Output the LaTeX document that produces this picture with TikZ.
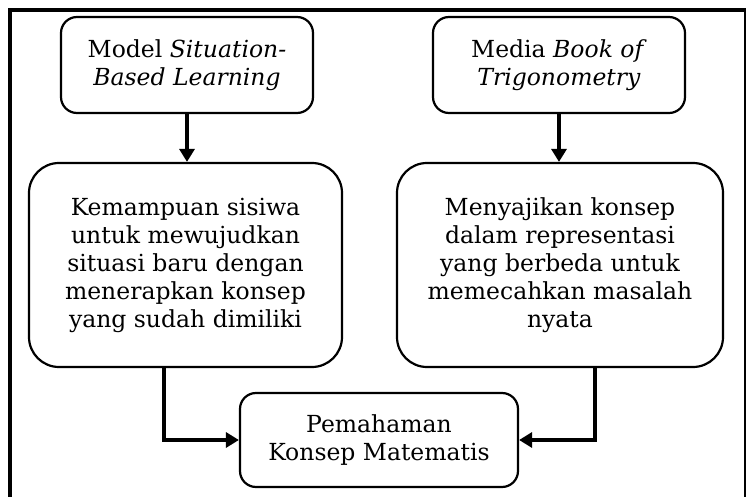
\documentclass[tikz,border=0pt]{standalone}
\usepackage{fontspec}
\setmainfont{DejaVu Serif}
\usetikzlibrary{arrows.meta,positioning,calc}

\begin{document}
\begin{tikzpicture}[
  x=1pt,
  y=1pt,
  box/.style={draw=black, line width=2.2pt, rounded corners=16pt, align=center,
    font=\fontsize{23.5}{28}\selectfont, inner sep=4pt},
  bigbox/.style={box, rounded corners=30pt},
  flow/.style={-{Triangle[length=13pt, width=15pt]}, line width=4pt}
]
  \useasboundingbox (0,0) rectangle (750,496);
  % Outer frame: thick on top and left, thin on the right
  \draw[line width=1.3pt] (745,486) -- (745,-5);
  \draw[line width=3.5pt] (10,-5) -- (10,486) -- (746,486);
  % Top row: model and media
  \node[box, minimum width=252, minimum height=96] (sbl) at (187,431)
    {Model \textit{Situation-}\\\textit{Based Learning}};
  \node[box, minimum width=252, minimum height=96] (bot) at (559,431)
    {Media \textit{Book of}\\\textit{Trigonometry}};
  % Middle row: what each one gives
  \node[bigbox, minimum width=313, minimum height=204] (kemampuan) at (185.5,231)
    {Kemampuan sisiwa\\untuk mewujudkan\\situasi baru dengan\\menerapkan konsep\\yang sudah dimiliki};
  \node[bigbox, minimum width=326, minimum height=204] (menyajikan) at (560,231)
    {Menyajikan konsep\\dalam representasi\\yang berbeda untuk\\memecahkan masalah\\nyata};
  % Bottom: the outcome
  \node[box, minimum width=278, minimum height=94] (pemahaman) at (379,56)
    {Pemahaman\\Konsep Matematis};
  % Connectors
  \draw[flow] (sbl.south) -- (sbl.south |- kemampuan.north);
  \draw[flow] (bot.south) -- (bot.south |- menyajikan.north);
  \draw[flow] ([xshift=-22pt]kemampuan.south) |- (pemahaman.west);
  \draw[flow] ([xshift=35pt]menyajikan.south) |- (pemahaman.east);
\end{tikzpicture}
\end{document}
